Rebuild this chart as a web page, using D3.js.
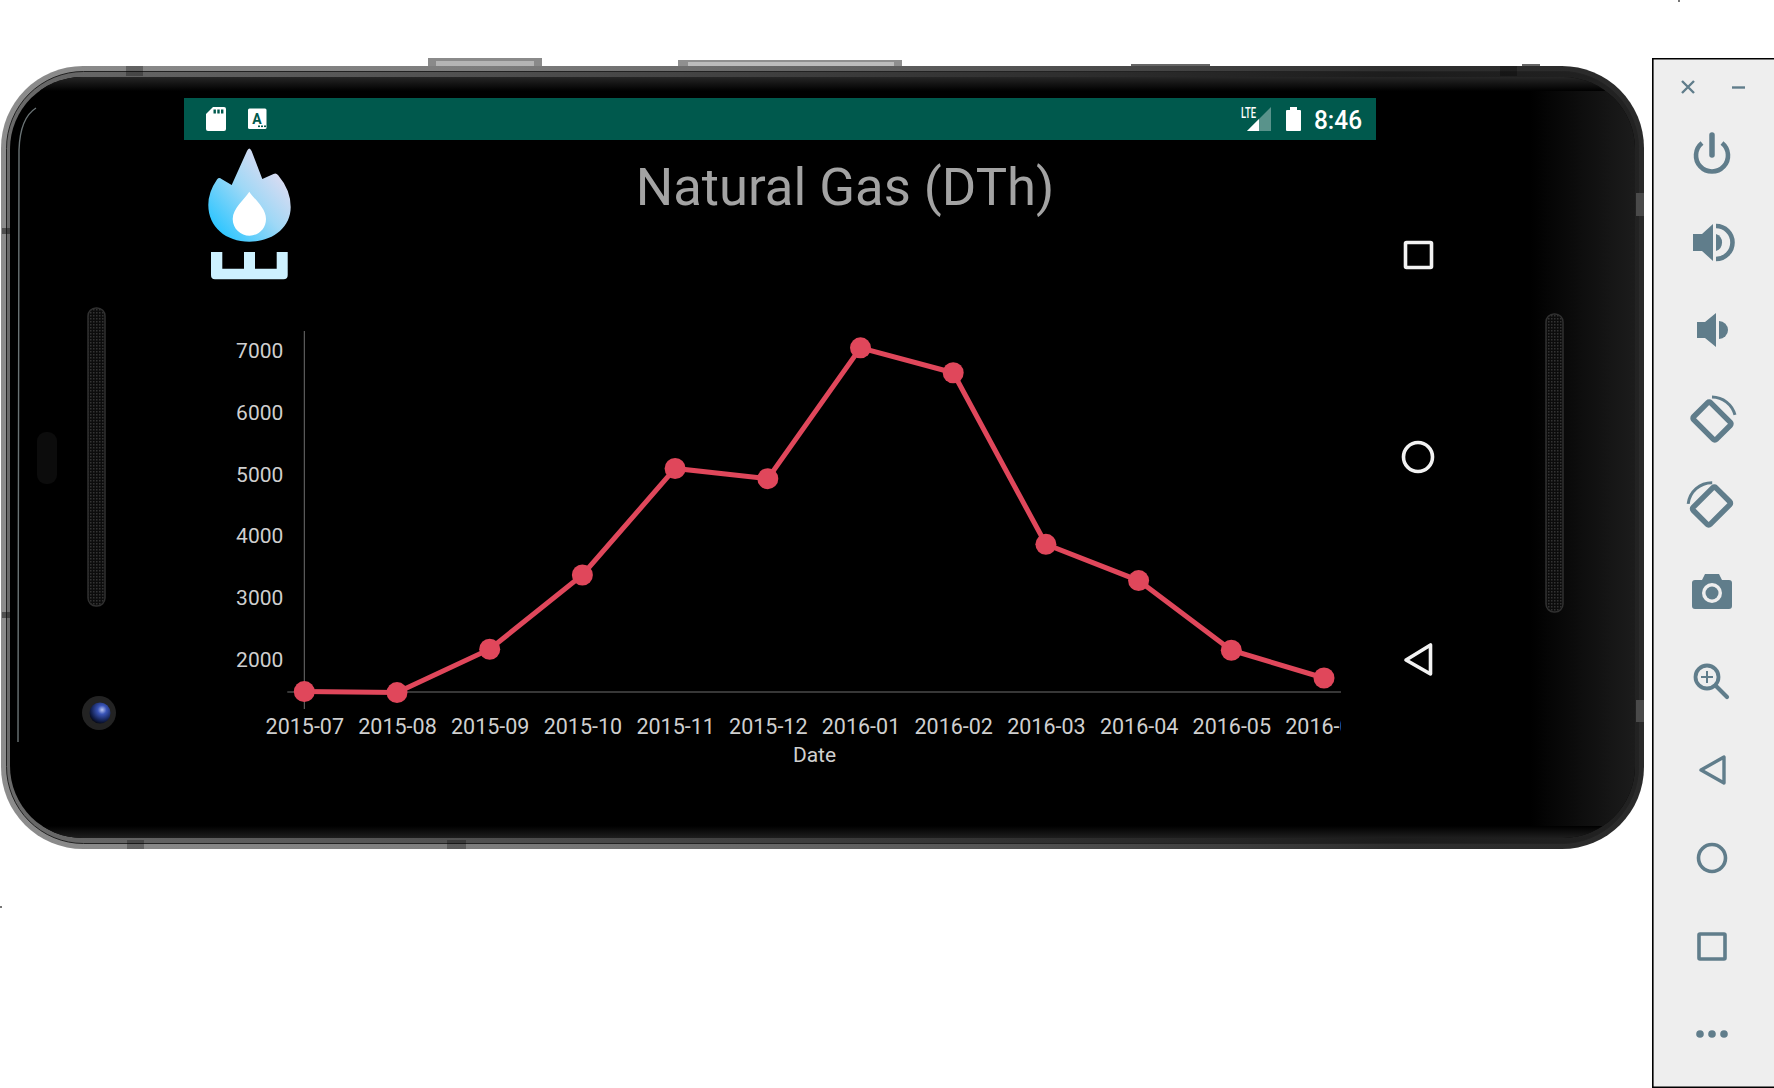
<!DOCTYPE html>
<html><head><meta charset="utf-8">
<script src="https://cdn.jsdelivr.net/npm/d3@7/dist/d3.min.js"></script>
<style>html,body{margin:0;padding:0;background:#fff;overflow:hidden}svg{display:block}
text{font-family:Roboto,sans-serif}</style></head>
<body><svg id="c" width="1774" height="1088"></svg>
<script>
const months = ["2015-07","2015-08","2015-09","2015-10","2015-11","2015-12","2016-01","2016-02","2016-03","2016-04","2016-05","2016-06"];
const gasDTh = [1463,1446,2150,3354,5081,4916,7037,6633,3851,3263,2133,1683];
const yTicks = [2000,3000,4000,5000,6000,7000];
const yDomain = [1456,7310];
const chartTitle = "Natural Gas (DTh)";
const xTitle = "Date";

const svg = d3.select("#c");
const defs = svg.append("defs");
function lin(id,x1,y1,x2,y2,stops){
  const g=defs.append("linearGradient").attr("id",id).attr("x1",x1).attr("y1",y1).attr("x2",x2).attr("y2",y2);
  stops.forEach(s=>g.append("stop").attr("offset",s[0]).attr("stop-color",s[1]).attr("stop-opacity",s[2]===undefined?1:s[2]));
}
lin("frame",0,0,1,0,[[0,"#8c8c8c"],[0.3,"#7c7c7c"],[0.6,"#555"],[0.85,"#2e2e2e"],[1,"#2a2a2a"]]);
lin("frameIn",0,0,1,0,[[0,"#6a6a6a"],[0.5,"#3c3c3c"],[0.85,"#1c1c1c"],[1,"#222"]]);
lin("rightGlow",0,0,1,0,[[0,"#1c1c1c",0],[1,"#1c1c1c",1]]);
lin("topGlow",0,0,0,1,[[0,"#262626"],[1,"#000"]]);
lin("botGlow",0,0,0,1,[[0,"#000"],[1,"#1e1e1e"]]);
lin("flame",0,1,1,0,[[0.12,"#2fc6ff"],[0.5,"#9fd8f6"],[0.88,"#eadcf0"]]);
const rg=defs.append("radialGradient").attr("id","lens").attr("cx",0.6).attr("cy",0.35).attr("r",0.7);
[[0,"#b8c4f0"],[0.3,"#3a55b8"],[0.75,"#12204f"],[1,"#05060f"]].forEach(s=>rg.append("stop").attr("offset",s[0]).attr("stop-color",s[1]));
const mesh=defs.append("pattern").attr("id","mesh").attr("width",3).attr("height",3).attr("patternUnits","userSpaceOnUse");
mesh.append("rect").attr("width",3).attr("height",3).attr("fill","#0c0c0c");
mesh.append("rect").attr("width",1.5).attr("height",1.5).attr("fill","#333");
defs.append("clipPath").attr("id","screenClip").append("rect").attr("x",10).attr("y",77).attr("width",1625).attr("height",761).attr("rx",72);

/* ---------- device ---------- */
const dev = svg.append("g");
[[428,58,114,9,"#8a8a8a"],[678,60,224,7,"#8f8f8f"],[1131,64,79,3,"#666"],[1522,64,18,3,"#666"]].forEach(b=>
  dev.append("rect").attr("x",b[0]).attr("y",b[1]).attr("width",b[2]).attr("height",b[3]+3).attr("fill",b[4]));
[[436,61,98,5,"#b4b4b4"],[688,62,206,4,"#bcbcbc"]].forEach(b=>
  dev.append("rect").attr("x",b[0]).attr("y",b[1]).attr("width",b[2]).attr("height",b[3]).attr("fill",b[4]));
dev.append("rect").attr("x",1).attr("y",66).attr("width",1643).attr("height",783).attr("rx",82).attr("fill","url(#frame)");
dev.append("rect").attr("x",6.5).attr("y",71.5).attr("width",1632).attr("height",772).attr("rx",77).attr("fill","url(#frameIn)").attr("stroke","#222").attr("stroke-width",1);
dev.append("rect").attr("x",10).attr("y",77).attr("width",1625).attr("height",761).attr("rx",72).attr("fill","#000");
const glow = dev.append("g").attr("clip-path","url(#screenClip)");
glow.append("rect").attr("x",1530).attr("y",77).attr("width",105).attr("height",761).attr("fill","url(#rightGlow)");
glow.append("rect").attr("x",10).attr("y",77).attr("width",1625).attr("height",14).attr("fill","url(#topGlow)");
glow.append("rect").attr("x",10).attr("y",826).attr("width",1625).attr("height",12).attr("fill","url(#botGlow)");
dev.append("path").attr("d","M36 108 Q20 118 19 150 L18 742").attr("fill","none").attr("stroke","#8d9a9c").attr("stroke-width",1.4).attr("opacity",0.75);
[[126,66,17,10],[1500,66,17,10],[127,840,17,9],[447,840,19,9]].forEach(b=>
  dev.append("rect").attr("x",b[0]).attr("y",b[1]).attr("width",b[2]).attr("height",b[3]).attr("fill","#000").attr("opacity",0.28));
[[2,228,8,6],[2,612,8,6]].forEach(b=>
  dev.append("rect").attr("x",b[0]).attr("y",b[1]).attr("width",b[2]).attr("height",b[3]).attr("fill","#111").attr("opacity",0.5));
[[1636,193,8,23],[1636,700,8,22]].forEach(b=>
  dev.append("rect").attr("x",b[0]).attr("y",b[1]).attr("width",b[2]).attr("height",b[3]).attr("fill","#4a4a4a"));
[[88,308,17,298],[1546,314,17,298]].forEach(b=>{
  dev.append("rect").attr("x",b[0]).attr("y",b[1]).attr("width",b[2]).attr("height",b[3]).attr("rx",8).attr("fill","url(#mesh)").attr("stroke","#303030").attr("stroke-width",1.5);
});
dev.append("rect").attr("x",37).attr("y",432).attr("width",20).attr("height",52).attr("rx",9).attr("fill","#0c0c0c");
dev.append("circle").attr("cx",99).attr("cy",713).attr("r",17).attr("fill","#232323");
dev.append("circle").attr("cx",100).attr("cy",713).attr("r",10.5).attr("fill","url(#lens)");
dev.append("rect").attr("x",0).attr("y",906).attr("width",2).attr("height",2).attr("fill","#777");
dev.append("rect").attr("x",1678).attr("y",0).attr("width",2).attr("height",2).attr("fill","#777");

/* ---------- status bar ---------- */
const sb = svg.append("g");
sb.append("rect").attr("x",184).attr("y",98).attr("width",1192).attr("height",42).attr("fill","#00594d");
sb.append("path").attr("d","M213 107 L224 107 Q226 107 226 109 L226 129 Q226 131 224 131 L208 131 Q206 131 206 129 L206 114 Z").attr("fill","#fff");
[213.5,217.3,221].forEach(x=>sb.append("rect").attr("x",x).attr("y",109.5).attr("width",2.4).attr("height",4).attr("fill","#00594d"));
sb.append("rect").attr("x",248).attr("y",108.5).attr("width",18.5).attr("height",20.5).attr("rx",1.5).attr("fill","#fff");
sb.append("text").attr("x",257).attr("y",124).attr("text-anchor","middle").attr("font-size",14).attr("font-weight",700).attr("fill","#00594d").text("A");
[258,261,264].forEach(x=>sb.append("rect").attr("x",x).attr("y",125.5).attr("width",2).attr("height",1.6).attr("fill","#00594d"));
sb.append("path").attr("d","M1271 107 L1271 131 L1247 131 Z").attr("fill","#fff").attr("opacity",0.35);
sb.append("path").attr("d","M1259 119 L1259 131 L1247 131 Z").attr("fill","#fff");
sb.append("text").attr("x",1241).attr("y",118).attr("font-size",14).attr("font-weight",500).attr("fill","#fff").attr("textLength",15).attr("lengthAdjust","spacingAndGlyphs").text("LTE");
sb.append("rect").attr("x",1286).attr("y",110).attr("width",15).attr("height",21).attr("rx",1).attr("fill","#fff");
sb.append("rect").attr("x",1290).attr("y",107).attr("width",7).attr("height",4).attr("fill","#fff");
sb.append("text").attr("x",1314).attr("y",129).attr("font-size",25).attr("font-weight",500).attr("fill","#fff").attr("textLength",48).attr("lengthAdjust","spacingAndGlyphs").text("8:46");

/* ---------- app icon ---------- */
const ic = svg.append("g");
ic.append("path").attr("fill","url(#flame)").attr("d",
 "M247 151 Q249.3 146 251.6 151 L262.3 179 L273.5 174 Q276 172.5 278 175 Q290.7 190 290.7 207 C290.7 228 272 241.7 249.3 241.7 C226 241.7 208.3 227 208.3 205 Q208.3 192 217 179.5 Q219 177 221.5 179 L231.7 185 Z");
ic.append("path").attr("fill","#fff").attr("d","M249.3 191.7 C254 199 266 208 266 219 C266 229 258 235.7 249.5 235.7 C241 235.7 232.7 229 232.7 219 C232.7 208 245 199 249.3 191.7 Z");
ic.append("path").attr("fill","#cdf1ff").attr("d","M211 252 H222.3 V268.7 H244 V252 H255 V268.7 H276.7 V252 H287.7 V275 Q287.7 279.3 283.5 279.3 H215 Q211 279.3 211 275 Z");

/* ---------- chart ---------- */
const x = d3.scalePoint().domain(months).range([304.3,1324]);
const y = d3.scaleLinear().domain(yDomain).range([692,331]);
const axisColor = "#6f6f6f", labelColor = "#cfcfcf";
const bottom = y(yDomain[0]), top_ = y(yDomain[1]);

svg.append("text").attr("x",845).attr("y",205).attr("text-anchor","middle").attr("font-size",52.6).attr("fill","#a3a3a3").text(chartTitle);

svg.append("line").attr("x1",x(months[0])).attr("x2",x(months[0])).attr("y1",top_).attr("y2",bottom+17).attr("stroke",axisColor);
svg.append("line").attr("x1",x(months[0])-17).attr("x2",1341).attr("y1",bottom).attr("y2",bottom).attr("stroke",axisColor);

defs.append("clipPath").attr("id","plotClipX").append("rect").attr("x",200).attr("y",0).attr("width",1141).attr("height",80);
const gx = svg.append("g").attr("transform",`translate(0,${bottom})`).attr("clip-path","url(#plotClipX)");
gx.call(d3.axisBottom(x).tickSize(0).tickPadding(25));
gx.select(".domain").remove();
gx.selectAll("text").attr("font-family","Roboto").attr("font-size",21.5).attr("fill",labelColor).attr("dy",0).attr("y",42);

const gy = svg.append("g").attr("transform",`translate(${x(months[0])},1)`);
gy.call(d3.axisLeft(y).tickValues(yTicks).tickFormat(d3.format("d")).tickSize(0).tickPadding(21));
gy.select(".domain").remove();
gy.selectAll("text").attr("font-family","Roboto").attr("font-size",21).attr("fill",labelColor);

svg.append("text").attr("x",814.5).attr("y",762).attr("text-anchor","middle").attr("font-size",21).attr("fill",labelColor).text(xTitle);

const red="#e0475b";
const pts = months.map((m,i)=>({m,v:gasDTh[i]}));
svg.append("path").datum(pts).attr("fill","none").attr("stroke",red).attr("stroke-width",5)
  .attr("d",d3.line().x(d=>x(d.m)).y(d=>y(d.v)));
svg.selectAll("circle.pt").data(pts).join("circle").attr("class","pt").attr("cx",d=>x(d.m)).attr("cy",d=>y(d.v)).attr("r",10.5).attr("fill",red);

/* ---------- nav buttons ---------- */
const nav = svg.append("g").attr("fill","none").attr("stroke","#f2f2f2").attr("stroke-width",3.6).attr("stroke-linejoin","round");
nav.append("rect").attr("x",1405.5).attr("y",242.5).attr("width",26).attr("height",25).attr("rx",1);
nav.append("circle").attr("cx",1418).attr("cy",457).attr("r",14.5);
nav.append("path").attr("d","M1406 660 L1430.5 645 L1430.5 674 Z");

/* ---------- emulator panel ---------- */
const p = svg.append("g");
p.append("path").attr("d","M1775 58.8 H1652.8 V1087.2 H1775").attr("fill","#eeeeee").attr("stroke","#000").attr("stroke-width",1.6);
const col="#607d8b";
const st = (sel,w)=>sel.attr("fill","none").attr("stroke",col).attr("stroke-width",w||3.4);
st(p.append("path").attr("d","M1682 81 L1694 93 M1694 81 L1682 93"),2.4);
st(p.append("path").attr("d","M1732 87.5 H1745"),2.4);
st(p.append("path").attr("d","M1702 143 A16 16 0 1 0 1722 143"),4.6);
st(p.append("path").attr("d","M1712 135 V155").attr("stroke-linecap","round"),5.5);
p.append("path").attr("fill",col).attr("d","M1693 234 H1702 L1713 224 V261 L1702 251 H1693 Z");
p.append("path").attr("fill",col).attr("d","M1716 234 A9 9 0 0 1 1716 251 Z");
st(p.append("path").attr("d","M1716 226 A16.5 16.5 0 0 1 1716 259"),4.6);
p.append("path").attr("fill",col).attr("d","M1697 322 H1705 L1716 313 V347 L1705 338 H1697 Z");
p.append("path").attr("fill",col).attr("d","M1719 321 A9 9 0 0 1 1719 339 Z");
const rot=(cx,cy,ang,arc)=>{
  const g=p.append("g").attr("transform",`translate(${cx},${cy}) rotate(${ang})`);
  st(g.append("rect").attr("x",-16).attr("y",-12).attr("width",32).attr("height",24).attr("rx",2),5.5);
  st(g.append("path").attr("d",arc),3);
};
rot(1712,421,45,"M-17 -17 A24 24 0 0 1 12 -20.5");
rot(1711.5,506,-45,"M-15 -18 A24 24 0 0 1 17 -16");
p.append("path").attr("fill",col).attr("d","M1695 580 Q1692 580 1692 583 V606 Q1692 609 1695 609 H1729 Q1732 609 1732 606 V583 Q1732 580 1729 580 H1722 L1719 574 H1705 L1702 580 Z");
p.append("circle").attr("cx",1712).attr("cy",593).attr("r",10).attr("fill","#eeeeee");
p.append("circle").attr("cx",1712).attr("cy",593).attr("r",6.5).attr("fill",col);
st(p.append("circle").attr("cx",1707).attr("cy",677).attr("r",11.5),3.8);
st(p.append("path").attr("d","M1716 686 L1727 697").attr("stroke-linecap","round"),4.2);
st(p.append("path").attr("d","M1707 671 V683 M1701 677 H1713"),2);
st(p.append("path").attr("d","M1701 770 L1724 757 V783 Z").attr("stroke-linejoin","round"),3.4);
st(p.append("circle").attr("cx",1712).attr("cy",858).attr("r",13.5),3.6);
st(p.append("rect").attr("x",1699).attr("y",934).attr("width",26).attr("height",25).attr("rx",1),3.6);
[1700,1712,1724].forEach(cx=>p.append("circle").attr("cx",cx).attr("cy",1034).attr("r",3.8).attr("fill",col));
</script></body></html>
